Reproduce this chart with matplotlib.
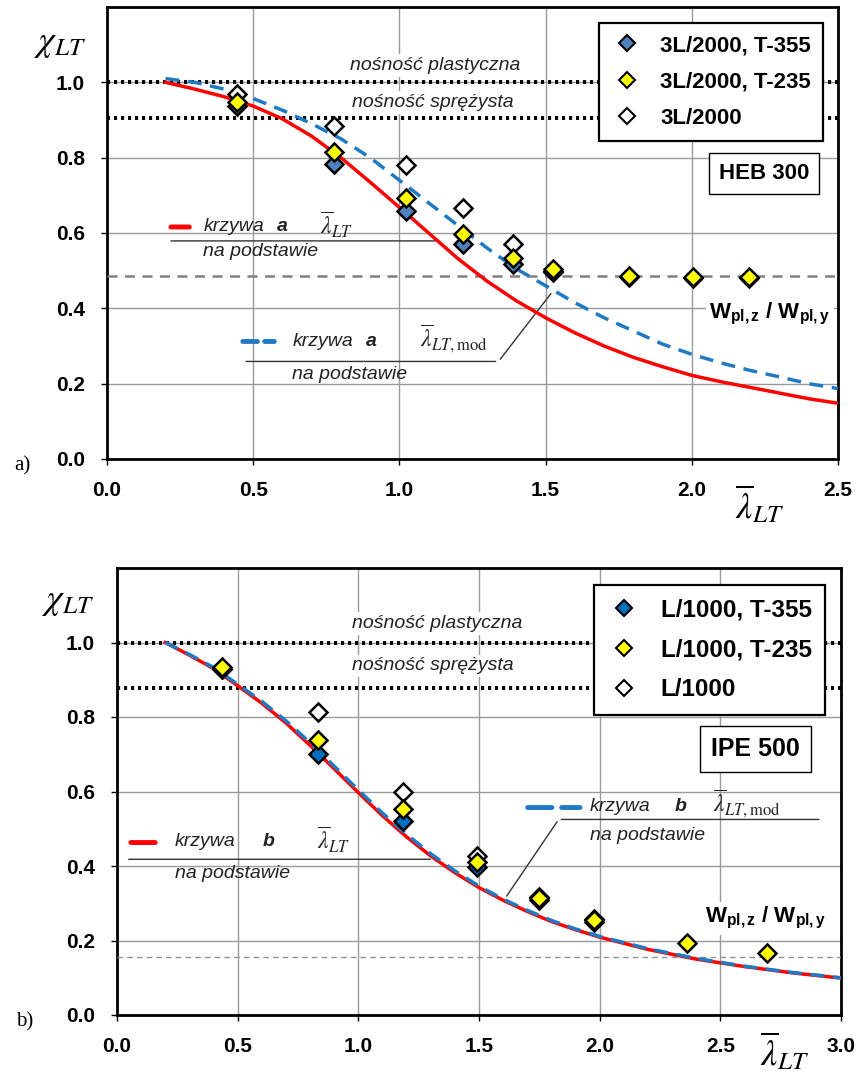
import matplotlib
matplotlib.use("Agg")
import matplotlib.pyplot as plt

plt.rcParams['font.family'] = ['Liberation Sans', 'DejaVu Sans']
plt.rcParams['mathtext.fontset'] = 'stix'
# sans bold maths only for the W_pl labels (math_fontfamily='custom')
plt.rcParams['mathtext.rm'] = 'Liberation Sans'
plt.rcParams['mathtext.bf'] = 'Liberation Sans:bold'
plt.rcParams['mathtext.it'] = 'Liberation Sans:italic'

# ---- panel a) HEB 300 ----
lam_a = [0.2, 0.3, 0.4, 0.5, 0.6, 0.7, 0.8, 0.9, 1.0, 1.1, 1.2, 1.3,
         1.4, 1.5, 1.6, 1.7, 1.8, 1.9, 2.0, 2.1, 2.2, 2.3, 2.4, 2.5]
chi_a = [1.00, 0.982, 0.962, 0.937, 0.903, 0.857, 0.80, 0.735, 0.668, 0.60, 0.532, 0.472,
         0.42, 0.375, 0.335, 0.30, 0.27, 0.245, 0.222, 0.205, 0.19, 0.175, 0.16, 0.148]
chi_a_mod = [1.01, 1.00, 0.982, 0.957, 0.926, 0.89, 0.85, 0.80, 0.74, 0.68, 0.62, 0.56,
             0.505, 0.46, 0.415, 0.375, 0.34, 0.305, 0.278, 0.255, 0.235, 0.218, 0.20, 0.187]

lam_a_355 = [0.445, 0.778, 1.024, 1.218, 1.387, 1.527, 1.784, 2.003, 2.195]
chi_a_355 = [0.936, 0.784, 0.659, 0.571, 0.517, 0.496, 0.483, 0.481, 0.480]
lam_a_235 = [0.445, 0.778, 1.024, 1.218, 1.387, 1.527, 1.784, 2.003, 2.195]
chi_a_235 = [0.947, 0.816, 0.693, 0.597, 0.533, 0.504, 0.485, 0.483, 0.482]
lam_a_imp = [0.445, 0.778, 1.024, 1.218, 1.387, 1.527]
chi_a_imp = [0.968, 0.883, 0.781, 0.667, 0.571, 0.500]

plast_a = 1.0
elast_a = 0.905
wratio_a = 0.485

# ---- panel b) IPE 500 ----
lam_b = [0.2, 0.3, 0.4, 0.5, 0.6, 0.7, 0.8, 0.9, 1.0, 1.1, 1.2, 1.3, 1.4, 1.5,
         1.6, 1.7, 1.8, 1.9, 2.0, 2.2, 2.4, 2.6, 2.8, 3.0]
chi_b = [1.00, 0.966, 0.93, 0.884, 0.837, 0.784, 0.724, 0.661, 0.597, 0.535, 0.478, 0.427,
         0.382, 0.342, 0.308, 0.278, 0.251, 0.229, 0.209, 0.176, 0.150, 0.130, 0.113, 0.099]
chi_b_mod = [1.00, 0.968, 0.933, 0.888, 0.842, 0.79, 0.731, 0.668, 0.604, 0.542, 0.485, 0.433,
             0.387, 0.346, 0.311, 0.281, 0.254, 0.231, 0.211, 0.178, 0.152, 0.131, 0.114, 0.100]

lam_b_355 = [0.435, 0.833, 1.185, 1.492, 1.749, 1.977]
chi_b_355 = [0.928, 0.702, 0.520, 0.396, 0.308, 0.250]
lam_b_235 = [0.435, 0.833, 1.185, 1.492, 1.749, 1.977, 2.362, 2.694]
chi_b_235 = [0.934, 0.739, 0.554, 0.412, 0.313, 0.254, 0.193, 0.166]
lam_b_imp = [0.435, 0.833, 1.185, 1.492, 1.749, 1.977]
chi_b_imp = [0.930, 0.814, 0.600, 0.428, 0.318, 0.258]

plast_b = 1.0
elast_b = 0.877
wratio_b = 0.155

W, H = 856, 1080
fig = plt.figure(figsize=(W / 100, H / 100), dpi=100)
ax1 = fig.add_axes([107 / W, 1 - 459 / H, 731 / W, 452 / H])
ax2 = fig.add_axes([117 / W, 1 - 1015 / H, 724 / W, 447 / H])

it = dict(style='italic', fontsize=14, color='#222222')
bg = dict(facecolor='white', edgecolor='none', pad=0.15, boxstyle='square')
dots = (0, (0.8, 1.0))
wlabel = r'W$_{\mathbf{pl,z}}$ / W$_{\mathbf{pl,y}}$'


def base(ax, xmax, xstep):
    ax.set_xlim(0, xmax)
    ax.set_ylim(0, 1.2)
    ax.set_xticks([i * xstep for i in range(int(round(xmax / xstep)) + 1)])
    ax.set_yticks([0.0, 0.2, 0.4, 0.6, 0.8, 1.0])
    ax.xaxis.set_major_formatter(matplotlib.ticker.FormatStrFormatter('%.1f'))
    ax.yaxis.set_major_formatter(matplotlib.ticker.FormatStrFormatter('%.1f'))
    ax.grid(True, color='#9a9a9a', lw=1)
    ax.set_axisbelow(True)
    for s in ax.spines.values():
        s.set_linewidth(2)
    ax.tick_params(labelsize=15, length=4, width=1, pad=12)
    for lb in ax.get_xticklabels() + ax.get_yticklabels():
        lb.set_fontweight('bold')


def markers(ax, l1, c1, l2, c2, l3, c3, blue):
    ax.plot(l3, c3, 'D', ms=9, mfc='white', mec='black', mew=1.8, ls='none', zorder=5)
    ax.plot(l1, c1, 'D', ms=9, mfc=blue, mec='black', mew=1.8, ls='none', zorder=6)
    ax.plot(l2, c2, 'D', ms=9, mfc='#ffff00', mec='black', mew=1.8, ls='none', zorder=7)


def lines_legend(ax, blue, labels, loc_anchor, size, spacing):
    h = [plt.Line2D([], [], marker='D', ms=8, mfc=blue, mec='black', mew=1.5, ls='none'),
         plt.Line2D([], [], marker='D', ms=8, mfc='#ffff00', mec='black', mew=1.5, ls='none'),
         plt.Line2D([], [], marker='D', ms=8, mfc='white', mec='black', mew=1.5, ls='none')]
    lg = ax.legend(h, labels, loc='upper right', bbox_to_anchor=loc_anchor,
                   prop=dict(size=size, weight='bold'), fancybox=False, framealpha=1,
                   edgecolor='black', handletextpad=0.8, labelspacing=spacing,
                   borderpad=0.55, handlelength=1.4, borderaxespad=0)
    lg.get_frame().set_linewidth(1.6)
    lg.set_zorder(10)


def boxed(ax, x, y, s, size, pad):
    ax.text(x, y, s, transform=ax.transAxes, ha='center', va='center',
            fontsize=size, fontweight='bold', zorder=10,
            bbox=dict(facecolor='white', edgecolor='black', lw=1, pad=pad, boxstyle='square'))


# ---------- panel a ----------
base(ax1, 2.5, 0.5)
ax1.axhline(plast_a, color='black', ls=dots, lw=2.8, zorder=3)
ax1.axhline(elast_a, color='black', ls=dots, lw=2.8, zorder=3)
ax1.axhline(wratio_a, color='#808080', ls=(0, (4, 3)), lw=1.8, zorder=3)
ax1.plot(lam_a, chi_a, color='#ff0000', lw=2.5, zorder=4)
ax1.plot(lam_a, chi_a_mod, color='#1f7ac4', lw=2.5, ls=(0, (4, 2.5)), zorder=4)
markers(ax1, lam_a_355, chi_a_355, lam_a_235, chi_a_235, lam_a_imp, chi_a_imp, '#4f81bd')
lines_legend(ax1, '#4f81bd', ['3L/2000, T-355', '3L/2000, T-235', '3L/2000'],
             (0.9795, 0.965), 16, 0.7)
boxed(ax1, 0.899, 0.632, 'HEB 300', 16, 0.45)

ax1.text(1.123, 1.045, 'nośność plastyczna', ha='center', va='center', bbox=bg, zorder=3.5, **it)
ax1.text(1.113, 0.947, 'nośność sprężysta', ha='center', va='center', bbox=bg, zorder=3.5, **it)

ax1.annotate('', xy=(0.291, 0.616), xytext=(0.209, 0.616),
             arrowprops=dict(arrowstyle='-', color='#ff0000', lw=3.5))
ax1.text(0.329, 0.618, 'krzywa', ha='left', va='center', **it)
ax1.text(0.582, 0.618, 'a', ha='left', va='center', fontweight='bold', **it)
ax1.text(0.73, 0.622, r'$\overline{\lambda}_{LT}$', ha='left', va='center', fontsize=17, color='#222222')
ax1.annotate('', xy=(1.14, 0.579), xytext=(0.209, 0.579),
             arrowprops=dict(arrowstyle='-', color='#333333', lw=1))
ax1.text(0.329, 0.552, 'na podstawie', ha='left', va='center', **it)

ax1.annotate('', xy=(0.582, 0.312), xytext=(0.455, 0.312),
             arrowprops=dict(arrowstyle='-', color='#1f7ac4', lw=3.5, linestyle=(0, (3, 1.5))))
ax1.text(0.634, 0.312, 'krzywa', ha='left', va='center', bbox=bg, **it)
ax1.text(0.887, 0.312, 'a', ha='left', va='center', fontweight='bold', **it)
ax1.text(1.07, 0.318, r'$\overline{\lambda}_{LT,\mathrm{mod}}$', ha='left', va='center',
         fontsize=17, color='#222222', bbox=bg)
ax1.annotate('', xy=(1.339, 0.259), xytext=(0.466, 0.259),
             arrowprops=dict(arrowstyle='-', color='#333333', lw=1))
ax1.annotate('', xy=(1.524, 0.445), xytext=(1.339, 0.259),
             arrowprops=dict(arrowstyle='-', color='#333333', lw=1))
ax1.text(0.634, 0.224, 'na podstawie', ha='left', va='center', **it)

ax1.text(2.267, 0.384, wlabel, ha='center', va='center', math_fontfamily='custom',
         fontsize=16, fontweight='bold', bbox=bg, zorder=3.5)

# ---------- panel b ----------
base(ax2, 3.0, 0.5)
ax2.axhline(plast_b, color='black', ls=dots, lw=2.8, zorder=3)
ax2.axhline(elast_b, color='black', ls=dots, lw=2.8, zorder=3)
ax2.axhline(wratio_b, color='#909090', ls=(0, (4, 3)), lw=1, zorder=3)
ax2.plot(lam_b, chi_b, color='#ff0000', lw=2.5, zorder=4)
ax2.plot(lam_b, chi_b_mod, color='#1f7ac4', lw=2.5, ls=(0, (4, 2.5)), zorder=4)
markers(ax2, lam_b_355, chi_b_355, lam_b_235, chi_b_235, lam_b_imp, chi_b_imp, '#0070c0')
lines_legend(ax2, '#0070c0', ['L/1000, T-355', 'L/1000, T-235', 'L/1000'],
             (0.978, 0.962), 17.5, 0.7)
boxed(ax2, 0.882, 0.595, 'IPE 500', 18, 0.45)

ax2.text(1.326, 1.052, 'nośność plastyczna', ha='center', va='center', bbox=bg, zorder=3.5, **it)
ax2.text(1.31, 0.937, 'nośność sprężysta', ha='center', va='center', bbox=bg, zorder=3.5, **it)

ax2.annotate('', xy=(0.170, 0.463), xytext=(0.046, 0.463),
             arrowprops=dict(arrowstyle='-', color='#ff0000', lw=3.5))
ax2.text(0.240, 0.465, 'krzywa', ha='left', va='center', **it)
ax2.text(0.605, 0.465, 'b', ha='left', va='center', fontweight='bold', **it)
ax2.text(0.83, 0.47, r'$\overline{\lambda}_{LT}$', ha='left', va='center', fontsize=17, color='#222222')
ax2.annotate('', xy=(1.31, 0.418), xytext=(0.037, 0.418),
             arrowprops=dict(arrowstyle='-', color='#333333', lw=1))
ax2.text(0.240, 0.380, 'na podstawie', ha='left', va='center', **it)

ax2.annotate('', xy=(1.93, 0.557), xytext=(1.69, 0.557),
             arrowprops=dict(arrowstyle='-', color='#1f7ac4', lw=3.5, linestyle=(0, (5, 2))))
ax2.text(1.96, 0.559, 'krzywa', ha='left', va='center', **it)
ax2.text(2.31, 0.559, 'b', ha='left', va='center', fontweight='bold', **it)
ax2.text(2.47, 0.567, r'$\overline{\lambda}_{LT,\mathrm{mod}}$', ha='left', va='center',
         fontsize=17, color='#222222')
ax2.annotate('', xy=(2.92, 0.525), xytext=(1.83, 0.525),
             arrowprops=dict(arrowstyle='-', color='#333333', lw=1))
ax2.annotate('', xy=(1.608, 0.313), xytext=(1.83, 0.525),
             arrowprops=dict(arrowstyle='-', color='#333333', lw=1))
ax2.text(1.96, 0.482, 'na podstawie', ha='left', va='center', **it)

ax2.text(2.686, 0.26, wlabel, ha='center', va='center', math_fontfamily='custom',
         fontsize=16, fontweight='bold', bbox=bg, zorder=3.5)

# axis titles and panel letters
fig.text(60 / W, 1 - 42 / H, r'$\chi_{LT}$', ha='center', va='center', fontsize=26)
fig.text(68 / W, 1 - 600 / H, r'$\chi_{LT}$', ha='center', va='center', fontsize=26)
fig.text(760 / W, 1 - 505 / H, r'$\overline{\lambda}_{LT}$', ha='center', va='center', fontsize=26)
fig.text(785 / W, 1 - 1052 / H, r'$\overline{\lambda}_{LT}$', ha='center', va='center', fontsize=26)
fig.text(22 / W, 1 - 466 / H, 'a)', ha='center', va='center', fontsize=15, family='Liberation Serif')
fig.text(25 / W, 1 - 1022 / H, 'b)', ha='center', va='center', fontsize=15, family='Liberation Serif')

fig.savefig('out.png', dpi=100)
